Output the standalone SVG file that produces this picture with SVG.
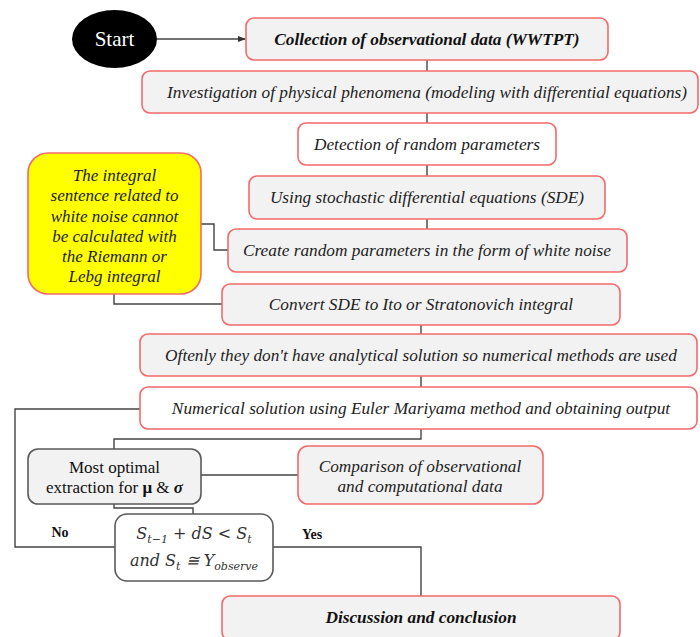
<svg xmlns="http://www.w3.org/2000/svg" width="700" height="637" viewBox="0 0 700 637">
<defs>
<style>
.b{fill:#f2f2f2;stroke:#f46a6a;stroke-width:1.6}
.w{fill:#ffffff;stroke:#f46a6a;stroke-width:1.6}
.g{fill:#f2f2f2;stroke:#5a5a5a;stroke-width:1.6}
.y{fill:#ffff00;stroke:#f46a6a;stroke-width:1.6}
.t{font-family:"Liberation Serif","Times New Roman",serif;font-size:17.3px;font-style:italic;fill:#222;text-anchor:middle}
.ty{font-size:17px}
.tb{font-weight:bold;fill:#111}
.n{font-family:"Liberation Serif","Times New Roman",serif;font-size:17px;fill:#111;text-anchor:middle}
.m{font-family:"DejaVu Serif","Liberation Serif",serif;font-style:italic;font-size:16px;fill:#333;text-anchor:middle}
.c{fill:none;stroke:#444;stroke-width:1.4}
</style>
<marker id="ah" markerWidth="8" markerHeight="8" refX="7" refY="4" orient="auto" markerUnits="userSpaceOnUse">
<path d="M0,1 L8,4 L0,7 Z" fill="#333"/>
</marker>
</defs>
<rect width="700" height="637" fill="#ffffff"/>

<g id="connectors">
<path class="c" d="M157,39 H245" marker-end="url(#ah)"/>
<path class="c" d="M427,60 V71"/>
<path class="c" d="M427,113 V123"/>
<path class="c" d="M427,165 V176"/>
<path class="c" d="M427,219 V229"/>
<path class="c" d="M201,224 H214 V250 H228"/>
<path class="c" d="M114,294 V304 H222"/>
<path class="c" d="M421,325 V334"/>
<path class="c" d="M421,376 V387"/>
<path class="c" d="M140,409 H15 V547 H115"/>
<path class="c" d="M421,429 V439 H114 V449"/>
<path class="c" d="M201,475 H298"/>
<path class="c" d="M114,504 V508 H193 V514"/>
<path class="c" d="M273,547 H421 V596"/>
</g>

<g id="start">
<ellipse cx="114.5" cy="39" rx="42.5" ry="29" fill="#000"/>
<text x="114.5" y="46" font-family="Liberation Serif,serif" font-size="21" fill="#fff" text-anchor="middle">Start</text>
</g>

<g id="n1">
<rect class="b" x="246" y="18" width="362" height="42" rx="8"/>
<text class="t tb" x="427" y="45">Collection of observational data (WWTPT)</text>
</g>

<g id="n2">
<rect class="b" x="142" y="71" width="556" height="42" rx="8"/>
<text class="t" x="427" y="98">Investigation of physical phenomena (modeling with differential equations)</text>
</g>

<g id="n3">
<rect class="w" x="298" y="123" width="258" height="42" rx="8"/>
<text class="t" x="427" y="150">Detection of random parameters</text>
</g>

<g id="n4">
<rect class="b" x="249" y="176" width="356" height="43" rx="8"/>
<text class="t" x="427" y="203">Using stochastic differential equations (SDE)</text>
</g>

<g id="n5">
<rect class="b" x="228" y="229" width="399" height="43" rx="8"/>
<text class="t" x="427" y="256">Create random parameters in the form of white noise</text>
</g>

<g id="note">
<rect class="y" x="28" y="153" width="173" height="141" rx="20"/>
<text class="t ty" x="114.5" y="181">The integral</text>
<text class="t ty" x="114.5" y="201">sentence related to</text>
<text class="t ty" x="114.5" y="221.5">white noise cannot</text>
<text class="t ty" x="114.5" y="242">be calculated with</text>
<text class="t ty" x="114.5" y="262">the Riemann or</text>
<text class="t ty" x="114.5" y="282">Lebg integral</text>
</g>

<g id="n6">
<rect class="b" x="222" y="284" width="398" height="41" rx="8"/>
<text class="t" x="421" y="310">Convert SDE to Ito or Stratonovich integral</text>
</g>

<g id="n7">
<rect class="b" x="140" y="334" width="557" height="42" rx="8"/>
<text class="t" x="421" y="361">Oftenly they don't have analytical solution so numerical methods are used</text>
</g>

<g id="n8">
<rect class="w" x="140" y="387" width="557" height="42" rx="8"/>
<text class="t" x="421" y="414">Numerical solution using Euler Mariyama method and obtaining output</text>
</g>

<g id="optimal">
<rect class="g" x="28" y="449" width="173" height="55" rx="10"/>
<text class="n" x="114.5" y="473">Most optimal</text>
<text class="n" x="114.5" y="493">extraction for <tspan font-weight="bold">μ</tspan> &amp; <tspan font-weight="bold" font-style="italic">σ</tspan></text>
</g>

<g id="compare">
<rect class="b" x="298" y="446" width="245" height="58" rx="10"/>
<text class="t" x="420" y="472">Comparison of observational</text>
<text class="t" x="420" y="492">and computational data</text>
</g>

<g id="decision">
<rect fill="#ffffff" stroke="#5a5a5a" stroke-width="1.6" x="115" y="514" width="158" height="67" rx="12"/>
<text class="m" x="194" y="539">S<tspan font-size="11" dy="4">t−1</tspan><tspan dy="-4"> + dS &lt; S</tspan><tspan font-size="11" dy="4">t</tspan></text>
<text class="m" x="194" y="566">and S<tspan font-size="11" dy="4">t</tspan><tspan dy="-4"> ≅ Y</tspan><tspan font-size="11" dy="4">observe</tspan></text>
</g>

<text x="60" y="537" font-family="Liberation Serif,serif" font-size="14" font-weight="bold" fill="#111" text-anchor="middle">No</text>
<text x="312" y="539" font-family="Liberation Serif,serif" font-size="14" font-weight="bold" fill="#111" text-anchor="middle">Yes</text>

<g id="end">
<rect class="b" x="222" y="596" width="398" height="44" rx="8"/>
<text class="t tb" x="421" y="623">Discussion and conclusion</text>
</g>
</svg>
